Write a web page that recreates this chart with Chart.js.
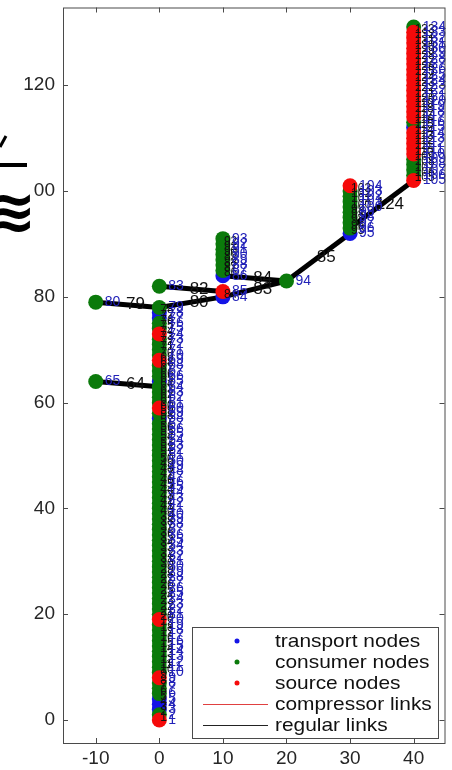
<!DOCTYPE html>
<html>
<head>
<meta charset="utf-8">
<script src="https://cdn.jsdelivr.net/npm/chart.js@4/dist/chart.umd.min.js"></script>
<style>
  html, body { margin: 0; padding: 0; background: #fff; }
</style>
</head>
<body>
<canvas id="net" width="452" height="770"></canvas>
<script>
// node groups: one x per group, the y of every node, one type letter per node
// (t = transport, c = consumer, s = source)
const groupX = [0, -10, -10, 0, 10, 10, 20, 30, 40];
const groupY = [
  [0,1,2,3,4,5,6,7,8,9,10,11,12,13,14,15,16,17,18,19,20,21,22,23,24,25,26,27,28,29,
   30,31,32,33,34,35,36,37,38,39,40,41,42,43,44,45,46,47,48,49,50,51,52,53,54,55,56,57,58,59,
   60,61,62,63,64,65,66,67,68,69,70,71,72,73,74,75,76,77,78],
  [79],
  [64],
  [82],
  [80, 81],
  [84, 85, 86, 87, 88, 89, 90, 91],
  [83],
  [92, 93, 94, 95, 96, 97, 98, 99, 100, 101],
  [102,103,104,105,106,107,108,109,110,111,112,113,114,115,116,117,118,119,120,
   121,122,123,124,125,126,127,128,129,130,131]
];
const groupTypes = [
  'sctttcccsc' + 'cccccccccs' + 'cccccccccc' + 'cccccccccc' + 'cccccccccc' +
  'ccccccctcs' + 'cccctcccsc' + 'cccsccttc',
  'c', 'c', 'c', 'ts', 'tccccccc', 'c', 'tccccccccs',
  'sccccsssss' + 'tcssssssss' + 'sssssssssc'
];
const groupFirstLabel = [1, 80, 65, 83, 84, 86, 94, 95, 105];

// links between groups
const linkX1 = [-10, -10, 0, 0, 10, 10, 20, 30];
const linkY1 = [79, 64, 82, 78, 80, 84, 83, 93];
const linkX2 = [0, 0, 10, 10, 20, 20, 30, 40];
const linkY2 = [78, 63, 81, 80, 83, 83, 92, 102];
const linkLabels = ['79', '64', '82', '80', '83', '84', '85', '124'];
const compressorLinks = [];

// axes
const xTicks = [-10, 0, 10, 20, 30, 40];
const yTicks = [0, 20, 40, 60, 80, 100, 120];
const yTickLabels = ['0', '20', '40', '60', '80', '00', '120'];

const FONT = "'Liberation Sans', Arial, sans-serif";
const typeColor = { t: '#1414e6', c: '#0b7a0b', s: '#f50a0a' };

// build node points and labels
const nodes = { t: [], c: [], s: [] };
const nodeText = [];
const chainText = [];
const datasets = [];

groupY.forEach((ys, g) => {
  const x = groupX[g];
  ys.forEach((y, k) => {
    nodes[groupTypes[g][k]].push({ x: x, y: y });
    nodeText.push({ x: x, y: y, text: String(groupFirstLabel[g] + k) });
    if (k > 0) {
      chainText.push({ x: x, y: (y + ys[k - 1]) / 2, text: String(groupFirstLabel[g] + k - 1) });
    }
  });
  if (ys.length > 1) {
    datasets.push({
      type: 'scatter', showLine: true, data: ys.map(y => ({ x: x, y: y })),
      borderColor: '#000', borderWidth: 3, pointRadius: 0, order: 10
    });
  }
});

linkX1.forEach((x1, i) => {
  datasets.push({
    type: 'scatter', showLine: true,
    data: [{ x: x1, y: linkY1[i] }, { x: linkX2[i], y: linkY2[i] }],
    borderColor: '#000', borderWidth: 5, pointRadius: 0, order: 10
  });
});

datasets.push({
  type: 'scatter', showLine: true, data: compressorLinks,
  borderColor: '#e03030', borderWidth: 1, pointRadius: 0, order: 9
});

[['t', 3], ['c', 2], ['s', 1]].forEach(([t, ord]) => {
  datasets.push({
    data: nodes[t], backgroundColor: typeColor[t], borderColor: typeColor[t],
    pointRadius: 7.5, pointBorderWidth: 0, pointHoverRadius: 7.5, order: ord
  });
});

const framePlugin = {
  id: 'frame',
  afterDatasetsDraw(chart) {
    const { ctx, scales } = chart;
    ctx.save();
    ctx.textBaseline = 'middle';
    // link labels
    ctx.fillStyle = '#111';
    ctx.font = '12px ' + FONT;
    ctx.textAlign = 'left';
    chainText.forEach(p => {
      ctx.fillText(p.text, scales.x.getPixelForValue(p.x) + 1, scales.y.getPixelForValue(p.y));
    });
    ctx.font = '17px ' + FONT;
    ctx.textAlign = 'center';
    linkLabels.forEach((txt, i) => {
      const mx = (linkX1[i] + linkX2[i]) / 2, my = (linkY1[i] + linkY2[i]) / 2;
      ctx.fillText(txt, scales.x.getPixelForValue(mx) + 8, scales.y.getPixelForValue(my));
    });
    // node labels
    ctx.fillStyle = '#2222b8';
    ctx.font = '14px ' + FONT;
    ctx.textAlign = 'left';
    nodeText.forEach(p => {
      ctx.fillText(p.text, scales.x.getPixelForValue(p.x) + 9, scales.y.getPixelForValue(p.y));
    });
    ctx.restore();
  },
  afterDraw(chart) {
    const { ctx, chartArea: a, scales } = chart;
    ctx.save();
    ctx.strokeStyle = '#4a4a4a';
    ctx.lineWidth = 1;
    ctx.strokeRect(a.left + 0.5, a.top + 0.5, a.right - a.left, a.bottom - a.top);
    ctx.beginPath();
    xTicks.forEach(v => {
      const px = Math.round(scales.x.getPixelForValue(v)) + 0.5;
      ctx.moveTo(px, a.bottom); ctx.lineTo(px, a.bottom - 5);
      ctx.moveTo(px, a.top); ctx.lineTo(px, a.top + 5);
    });
    yTicks.forEach(v => {
      const py = Math.round(scales.y.getPixelForValue(v)) + 0.5;
      ctx.moveTo(a.left, py); ctx.lineTo(a.left + 5, py);
      ctx.moveTo(a.right, py); ctx.lineTo(a.right - 5, py);
    });
    ctx.stroke();

    // legend inside the plot, bottom right
    const lx = 192, ly = 627, lw = 246, lh = 111;
    ctx.fillStyle = '#fff';
    ctx.fillRect(lx, ly, lw, lh);
    ctx.strokeRect(lx + 0.5, ly + 0.5, lw, lh);
    const items = [
      ['dot', typeColor.t, 'transport nodes'],
      ['dot', typeColor.c, 'consumer nodes'],
      ['dot', typeColor.s, 'source nodes'],
      ['line', '#e04040', 'compressor links'],
      ['line', '#222', 'regular links']
    ];
    items.forEach((it, i) => {
      const y = 641 + i * 21;
      if (it[0] === 'dot') {
        ctx.fillStyle = it[1];
        ctx.beginPath(); ctx.arc(237, y, 2.5, 0, Math.PI * 2); ctx.fill();
      } else {
        ctx.strokeStyle = it[1];
        ctx.beginPath(); ctx.moveTo(203, y + 0.5); ctx.lineTo(268, y + 0.5); ctx.stroke();
      }
      ctx.save();
      ctx.translate(275, y);
      ctx.scale(1.1, 1);
      ctx.fillStyle = '#111';
      ctx.font = '19px ' + FONT;
      ctx.textAlign = 'left';
      ctx.textBaseline = 'middle';
      ctx.fillText(it[2], 0, 1);
      ctx.restore();
    });

    // cut-off axis label glyphs at the left edge
    ctx.fillStyle = '#000';
    ctx.font = 'bold 60px DejaVu Sans';
    ctx.textAlign = 'left';
    ctx.textBaseline = 'middle';
    ctx.fillText('\u224B', -14, 216);
    ctx.fillRect(0, 163, 27, 4);
    ctx.lineWidth = 3;
    ctx.strokeStyle = '#000';
    ctx.beginPath(); ctx.moveTo(0, 147); ctx.lineTo(6, 136); ctx.stroke();
    ctx.restore();
  }
};

new Chart(document.getElementById('net').getContext('2d'), {
  type: 'scatter',
  data: { datasets: datasets },
  plugins: [framePlugin],
  options: {
    responsive: false,
    animation: false,
    devicePixelRatio: 1,
    layout: { padding: { top: 6, right: 1, left: 0, bottom: 0 } },
    plugins: { legend: { display: false }, tooltip: { enabled: false } },
    events: [],
    scales: {
      x: {
        type: 'linear', min: -15.15, max: 44.85,
        afterBuildTicks: s => { s.ticks = xTicks.map(v => ({ value: v })); },
        afterFit: s => { s.height = 27; s.paddingLeft = 0; s.paddingRight = 0; },
        grid: { display: false, drawTicks: false },
        border: { display: false },
        ticks: { padding: 4, color: '#262626', font: { size: 19, family: FONT } }
      },
      y: {
        type: 'linear', min: -4.34, max: 134.7,
        afterBuildTicks: s => { s.ticks = yTicks.map(v => ({ value: v })); },
        afterFit: s => { s.width = 63; s.paddingTop = 0; s.paddingBottom = 0; },
        grid: { display: false, drawTicks: false },
        border: { display: false },
        ticks: {
          padding: 8, color: '#262626', font: { size: 19, family: FONT },
          callback: (v) => yTickLabels[yTicks.indexOf(v)]
        }
      }
    }
  }
});
</script>
</body>
</html>
